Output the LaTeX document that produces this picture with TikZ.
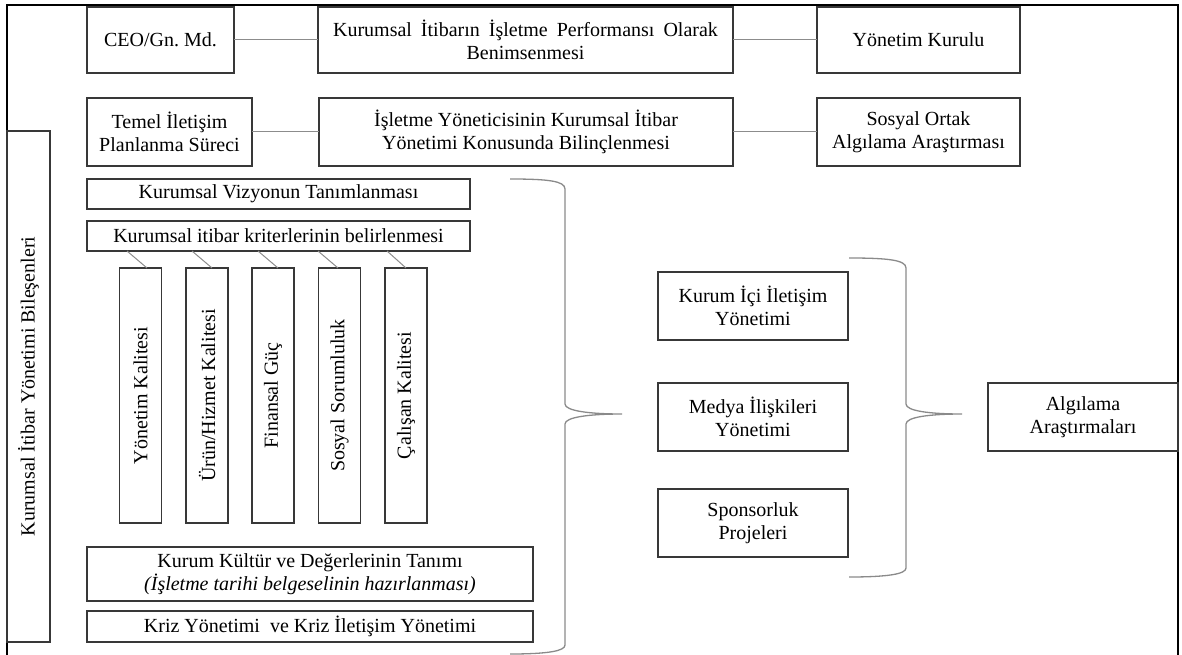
\documentclass[tikz,border=0pt]{standalone}
\usepackage{fontspec}
\setmainfont{Liberation Serif}
\usepackage{graphicx}
\usetikzlibrary{calc}

\definecolor{boxline}{HTML}{383838}
\definecolor{linkgray}{HTML}{8C8C8C}
\definecolor{bracegray}{HTML}{8A8A8A}

\begin{document}
\begin{tikzpicture}[x=1pt,y=-1pt,
  every node/.style={font=\fontsize{20}{23}\selectfont},
  box/.style={draw=boxline, line width=1.3pt, inner sep=0pt, outer sep=0pt, align=center},
  wh/.style 2 args={minimum width=#1, minimum height=#2},
  link/.style={draw=linkgray, line width=1pt},
  brace/.style={draw=bracegray, line width=1.3pt},
  frame/.style={draw=black, line width=2.5pt}
]
\useasboundingbox (0,0) rectangle (1182,655);

% outer frame (open at the bottom)
\draw[frame] (7,657) -- (7,5) -- (1178,5) -- (1178,657);

% top rows
\node[box, wh={147pt}{66pt}] (ceo) at (160.5,40) {CEO/Gn.\ Md.};
\node[box, wh={415pt}{66pt}] (perf) at (525.5,40) {\spaceskip=9pt plus 1pt Kurumsal İtibarın İşletme Performansı Olarak\\Benimsenmesi};
\node[box, wh={203pt}{66pt}] (yk) at (918.5,40) {Yönetim Kurulu};

\node[box, wh={165pt}{68pt}] (temel) at (169.5,132) {Temel İletişim\\Planlanma Süreci};
\node[box, wh={414pt}{68pt}] (bilinc) at (526,132) {İşletme Yöneticisinin Kurumsal İtibar\\Yönetimi Konusunda Bilinçlenmesi};
\node[box, wh={203pt}{68pt}] (sosyal) at (918.5,132) {Sosyal Ortak\\Algılama Araştırması};

\draw[link] (ceo.east) -- (perf.west);
\draw[link] (perf.east) -- (yk.west);
\draw[link] (temel.east) -- (bilinc.west);
\draw[link] (bilinc.east) -- (sosyal.west);

% components column
\node[box, wh={43pt}{511pt}] (bilesen) at (28.5,386.5) {\rotatebox{90}{Kurumsal İtibar Yönetimi Bileşenleri}};

\node[box, wh={383pt}{30pt}] (vizyon) at (278.5,194) {Kurumsal Vizyonun Tanımlanması};
\node[box, wh={383pt}{30pt}] (kriter) at (278.5,236) {Kurumsal itibar kriterlerinin belirlenmesi};

\node[box, wh={42pt}{255pt}] (v1) at (140.5,395.5) {\rotatebox{90}{Yönetim Kalitesi}};
\node[box, wh={42pt}{255pt}] (v2) at (207,395.5) {\rotatebox{90}{Ürün/Hizmet Kalitesi}};
\node[box, wh={42pt}{255pt}] (v3) at (273,395.5) {\rotatebox{90}{Finansal Güç}};
\node[box, wh={42pt}{255pt}] (v4) at (339.5,395.5) {\rotatebox{90}{Sosyal Sorumluluk}};
\node[box, wh={42pt}{255pt}] (v5) at (406,395.5) {\rotatebox{90}{Çalışan Kalitesi}};

\foreach \i/\a/\b in {1/-13.5/6.5, 2/-15/5, 3/-15/5, 4/-21.5/-1.5, 5/-19/0}
  \draw[link] ($(v\i.north)+(\a,-17)$) -- ($(v\i.north)+(\b,0)$);

\node[box, wh={446pt}{54pt}] (kultur) at (310,574) {Kurum Kültür ve Değerlerinin Tanımı\\\textit{(İşletme tarihi belgeselinin hazırlanması)}};
\node[box, wh={446pt}{31pt}] (kriz) at (310,626.5) {Kriz Yönetimi\ \ ve Kriz İletişim Yönetimi};

% communication tools
\node[box, wh={190pt}{68pt}] (icil) at (753,306) {Kurum İçi İletişim\\Yönetimi};
\node[box, wh={190pt}{68pt}] (medya) at (753,417) {Medya İlişkileri\\Yönetimi};
\node[box, wh={190pt}{68pt}] (spons) at (753,523) {Sponsorluk\\Projeleri};

\node[box, wh={190pt}{68pt}] (algi) at (1083,417) {Algılama\\Araştırmaları};

% grouping braces
\draw[brace] (510,179) .. controls (548,179) and (565,181) .. (565,189)
  -- (565,404) .. controls (565,411) and (590,414) .. (622,414)
  .. controls (590,414) and (565,417) .. (565,424)
  -- (565,645) .. controls (565,651) and (548,654) .. (510,654);
\draw[brace] (849,258) .. controls (888,258) and (906,260) .. (906,268)
  -- (906,404) .. controls (906,411) and (930,414) .. (962,414)
  .. controls (930,414) and (906,417) .. (906,424)
  -- (906,568) .. controls (906,574) and (888,577) .. (849,577);
\end{tikzpicture}
\end{document}
